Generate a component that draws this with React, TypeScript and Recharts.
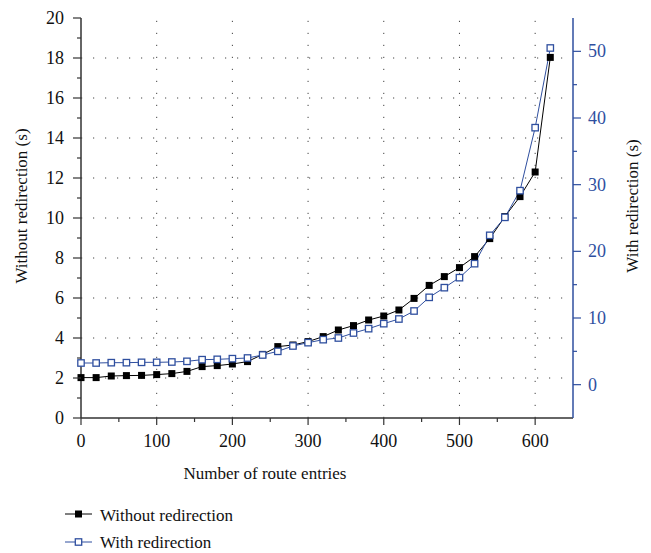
import React from "react";
import { LineChart, Line, XAxis, YAxis, ReferenceLine, Label } from "recharts";

const routeEntries = [
  0, 20, 40, 60, 80, 100, 120, 140, 160, 180, 200, 220, 240, 260, 280, 300,
  320, 340, 360, 380, 400, 420, 440, 460, 480, 500, 520, 540, 560, 580, 600, 620,
];
const withoutRedirection = [
  2.02, 2.02, 2.1, 2.12, 2.13, 2.17, 2.22, 2.33, 2.57, 2.62, 2.7, 2.82, 3.18, 3.57, 3.65, 3.82,
  4.07, 4.4, 4.62, 4.9, 5.1, 5.4, 5.98, 6.63, 7.07, 7.52, 8.07, 8.97, 10.07, 11.07, 12.3, 18.03,
];
const withRedirection = [
  3.25, 3.25, 3.3, 3.3, 3.35, 3.35, 3.4, 3.5, 3.75, 3.8, 3.9, 4.0, 4.45, 5.0, 5.8, 6.3,
  6.75, 7.0, 7.75, 8.4, 9.15, 9.85, 11.05, 13.1, 14.55, 16.05, 18.15, 22.4, 25.1, 29.1, 38.55, 50.5,
];
const xTicks = [0, 50, 100, 150, 200, 250, 300, 350, 400, 450, 500, 550, 600];
const leftTicks = [0, 1, 2, 3, 4, 5, 6, 7, 8, 9, 10, 11, 12, 13, 14, 15, 16, 17, 18, 19, 20];
const rightTicks = [0, 5, 10, 15, 20, 25, 30, 35, 40, 45, 50];
const gridX = [100, 200, 300, 400, 500, 600];
const gridY = [2, 4, 6, 8, 10, 12, 14, 16, 18];

const BLUE = "#2f4f9f";
const AXIS = "#333";
const FONT = "Liberation Serif";

const data = routeEntries.map((x, i) => ({
  x,
  without: withoutRedirection[i],
  with: withRedirection[i],
}));

const tickText = { fontFamily: FONT, fontSize: 18 };

// tick size/margin are 0, so x/y here are on the axis line itself
const BottomTick = (props: any) => {
  const { x, y, payload } = props;
  const major = payload.value % 100 === 0;
  return (
    <g>
      <line x1={x} x2={x} y1={y} y2={y + (major ? 7 : 4)} stroke={AXIS} strokeWidth={1.2} />
      {major && (
        <text x={x} y={y + 29} textAnchor="middle" fill="#111" style={tickText}>
          {payload.value}
        </text>
      )}
    </g>
  );
};

const TopTick = (props: any) => {
  const { x, y, payload } = props;
  const major = payload.value % 100 === 0;
  return <line x1={x} x2={x} y1={y} y2={y + (major ? 7 : 4)} stroke={AXIS} strokeWidth={1.2} />;
};

const LeftTick = (props: any) => {
  const { x, y, payload } = props;
  const major = payload.value % 2 === 0;
  return (
    <g>
      <line x1={x} x2={x - (major ? 8 : 4)} y1={y} y2={y} stroke={AXIS} strokeWidth={1.2} />
      {major && (
        <text x={x - 17} y={y} dy="0.34em" textAnchor="end" fill="#111" style={tickText}>
          {payload.value}
        </text>
      )}
    </g>
  );
};

const RightTick = (props: any) => {
  const { x, y, payload } = props;
  const major = payload.value % 10 === 0;
  return (
    <g>
      <line x1={x} x2={x + (major ? 8 : 4)} y1={y} y2={y} stroke={BLUE} strokeWidth={1.2} />
      {major && (
        <text x={x + 15} y={y} dy="0.34em" textAnchor="start" fill={BLUE} style={tickText}>
          {payload.value}
        </text>
      )}
    </g>
  );
};

const FilledSquare = (props: any) => {
  const { cx, cy } = props;
  if (cx == null || cy == null) return null;
  return <rect x={cx - 3.5} y={cy - 3.5} width={7} height={7} fill="#000" />;
};

const HollowSquare = (props: any) => {
  const { cx, cy } = props;
  if (cx == null || cy == null) return null;
  return <rect x={cx - 3.2} y={cy - 3.2} width={6.4} height={6.4} fill="#fff" stroke={BLUE} strokeWidth={1.3} />;
};

const ChartLegend = () => (
  <svg width={300} height={60} style={{ position: "absolute", left: 0, top: 495 }}>
    <g>
      <line x1={65} x2={92} y1={19} y2={19} stroke="#000" strokeWidth={1} />
      <rect x={75} y={15.5} width={7} height={7} fill="#000" />
      <text x={100} y={26} fill="#111" style={{ fontFamily: FONT, fontSize: 17 }}>Without redirection</text>
    </g>
    <g>
      <line x1={65} x2={92} y1={47} y2={47} stroke={BLUE} strokeWidth={1} />
      <rect x={75.3} y={43.8} width={6.4} height={6.4} fill="#fff" stroke={BLUE} strokeWidth={1.3} />
      <text x={100} y={53} fill="#111" style={{ fontFamily: FONT, fontSize: 17 }}>With redirection</text>
    </g>
  </svg>
);

export default function App() {
  return (
    <div style={{ position: "absolute", left: 0, top: 0, width: 651, height: 553, background: "#fff", fontFamily: FONT }}>
      <LineChart width={651} height={553} data={data} margin={{ top: 18, right: 0, bottom: 65, left: 0 }}>
        <XAxis
          dataKey="x"
          type="number"
          domain={[0, 650]}
          ticks={xTicks}
          interval={0}
          height={70}
          tickSize={0}
          tickMargin={0}
          tickLine={false}
          tick={<BottomTick />}
          axisLine={{ stroke: AXIS, strokeWidth: 1.5 }}
        >
          <Label
            value="Number of route entries"
            position="insideBottom"
            offset={9}
            dx={-62}
            style={{ fontSize: 17, fontFamily: FONT, fill: "#111" }}
          />
        </XAxis>
        <XAxis
          xAxisId="top"
          orientation="top"
          dataKey="x"
          type="number"
          domain={[0, 650]}
          ticks={xTicks}
          interval={0}
          height={0}
          tickSize={0}
          tickMargin={0}
          tickLine={false}
          tick={<TopTick />}
          axisLine={{ stroke: AXIS, strokeWidth: 1.5 }}
        />
        <YAxis
          yAxisId="left"
          type="number"
          domain={[0, 20]}
          ticks={leftTicks}
          interval={0}
          width={81}
          tickSize={0}
          tickMargin={0}
          tickLine={false}
          tick={<LeftTick />}
          axisLine={{ stroke: AXIS, strokeWidth: 1.5 }}
        >
          <Label
            value="Without redirection (s)"
            position="center"
            angle={-90}
            dx={-20}
            dy={-12}
            style={{ fontSize: 17, fontFamily: FONT, fill: "#111", textAnchor: "middle" }}
          />
        </YAxis>
        <YAxis
          yAxisId="right"
          orientation="right"
          type="number"
          domain={[-5, 55]}
          ticks={rightTicks}
          interval={0}
          width={78}
          tickSize={0}
          tickMargin={0}
          tickLine={false}
          tick={<RightTick />}
          axisLine={{ stroke: BLUE, strokeWidth: 1.5 }}
        >
          <Label
            value="With redirection (s)"
            position="center"
            angle={-90}
            dx={20}
            dy={-12}
            style={{ fontSize: 17, fontFamily: FONT, fill: "#111", textAnchor: "middle" }}
          />
        </YAxis>
        {gridX.map((v) => (
          <ReferenceLine key={`gx${v}`} x={v} yAxisId="left" stroke="#444" strokeDasharray="1.2 10.8" />
        ))}
        {gridY.map((v) => (
          <ReferenceLine key={`gy${v}`} y={v} yAxisId="left" stroke="#444" strokeDasharray="1.2 10.8" />
        ))}
        <Line
          yAxisId="left"
          dataKey="without"
          name="Without redirection"
          stroke="#000"
          strokeWidth={1}
          dot={<FilledSquare />}
          isAnimationActive={false}
        />
        <Line
          yAxisId="right"
          dataKey="with"
          name="With redirection"
          stroke={BLUE}
          strokeWidth={1}
          dot={<HollowSquare />}
          isAnimationActive={false}
        />
      </LineChart>
      <ChartLegend />
    </div>
  );
}
